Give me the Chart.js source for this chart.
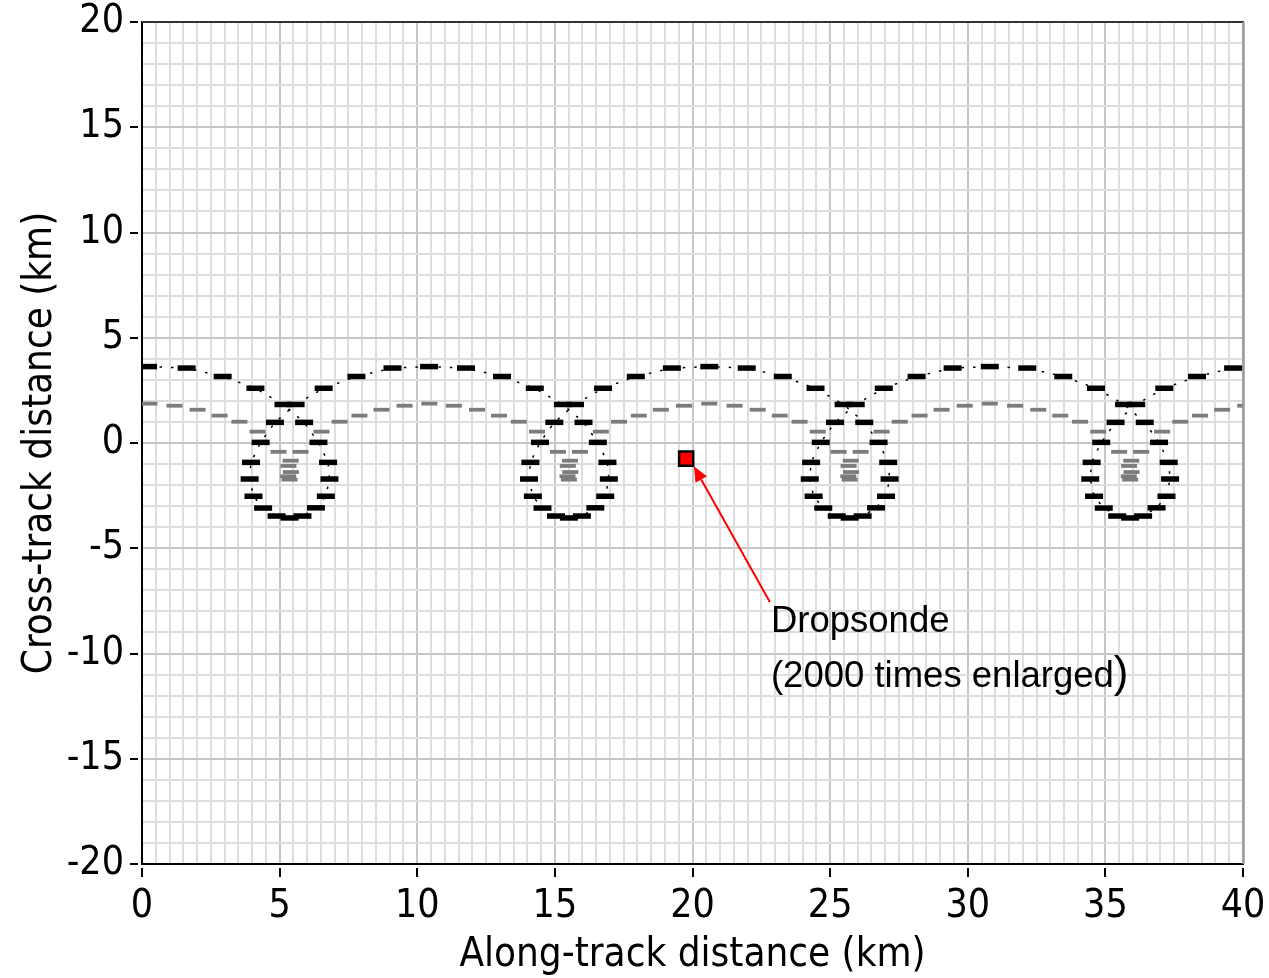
<!DOCTYPE html>
<html>
<head>
<meta charset="utf-8">
<title>Along-track vs cross-track distance</title>
<script src="https://cdn.jsdelivr.net/npm/chart.js@4.4.1/dist/chart.umd.min.js"></script>
<style>
  html, body { margin: 0; padding: 0; background: #ffffff; }
  #wrap { width: 1269px; height: 978px; }
</style>
</head>
<body>
<div id="wrap"><canvas id="plot" width="1269" height="978"></canvas></div>
<script>
// Sampled positions of the outer (black) track: [along-track km, cross-track km]
const blackTrack = [
  [0.22, 3.63], [1.62, 3.56], [2.93, 3.16], [4.12, 2.60], [5.14, 1.83],
  [5.89, 0.98], [6.41, 0.03], [6.76, -0.92], [6.81, -1.71], [6.68, -2.53], [6.32, -3.08], [5.83, -3.47],
  [5.36, -3.56],
  [4.89, -3.47], [4.40, -3.09], [4.05, -2.53], [3.91, -1.71], [3.96, -0.92], [4.31, 0.03], [4.83, 0.98],
  [5.58, 1.83], [6.60, 2.60], [7.79, 3.16], [9.10, 3.56], [10.43, 3.63],

  [11.77, 3.56], [13.08, 3.16], [14.27, 2.60], [15.29, 1.83],
  [16.04, 0.98], [16.56, 0.03], [16.91, -0.92], [16.96, -1.71], [16.83, -2.53], [16.47, -3.08], [15.98, -3.47],
  [15.51, -3.56],
  [15.04, -3.47], [14.55, -3.09], [14.20, -2.53], [14.06, -1.71], [14.11, -0.92], [14.46, 0.03], [14.98, 0.98],
  [15.73, 1.83], [16.75, 2.60], [17.94, 3.16], [19.25, 3.56], [20.61, 3.63],

  [21.97, 3.56], [23.28, 3.16], [24.47, 2.60], [25.49, 1.83],
  [26.24, 0.98], [26.76, 0.03], [27.11, -0.92], [27.16, -1.71], [27.03, -2.53], [26.67, -3.08], [26.18, -3.47],
  [25.71, -3.56],
  [25.24, -3.47], [24.75, -3.09], [24.40, -2.53], [24.26, -1.71], [24.31, -0.92], [24.66, 0.03], [25.18, 0.98],
  [25.93, 1.83], [26.95, 2.60], [28.14, 3.16], [29.45, 3.56], [30.80, 3.63],

  [32.16, 3.56], [33.47, 3.16], [34.66, 2.60], [35.68, 1.83],
  [36.43, 0.98], [36.95, 0.03], [37.30, -0.92], [37.35, -1.71], [37.22, -2.53], [36.86, -3.08], [36.37, -3.47],
  [35.90, -3.56],
  [35.43, -3.47], [34.94, -3.09], [34.59, -2.53], [34.45, -1.71], [34.50, -0.92], [34.85, 0.03], [35.37, 0.98],
  [36.12, 1.83], [37.14, 2.60], [38.33, 3.16], [39.64, 3.56], [40.99, 3.63]
];

// Sampled positions of the inner (grey) track: [along-track km, cross-track km]
const grayTrack = [
  [0.27, 1.87], [1.18, 1.77], [2.02, 1.58], [2.82, 1.30], [3.54, 1.01], [4.20, 0.54], [4.96, -0.42],
  [5.40, -0.84], [5.41, -1.38], [5.36, -1.74], [5.31, -1.58], [5.32, -1.09],
  [5.76, -0.42], [6.52, 0.54], [7.18, 1.01], [7.90, 1.30], [8.70, 1.58], [9.54, 1.77], [10.44, 1.87],

  [11.33, 1.77], [12.17, 1.58], [12.97, 1.30], [13.69, 1.01], [14.35, 0.54], [15.11, -0.42],
  [15.55, -0.84], [15.56, -1.38], [15.51, -1.74], [15.46, -1.58], [15.47, -1.09],
  [15.91, -0.42], [16.67, 0.54], [17.33, 1.01], [18.05, 1.30], [18.85, 1.58], [19.69, 1.77], [20.61, 1.87],

  [21.53, 1.77], [22.37, 1.58], [23.17, 1.30], [23.89, 1.01], [24.55, 0.54], [25.31, -0.42],
  [25.75, -0.84], [25.76, -1.38], [25.71, -1.74], [25.66, -1.58], [25.67, -1.09],
  [26.11, -0.42], [26.87, 0.54], [27.53, 1.01], [28.25, 1.30], [29.05, 1.58], [29.89, 1.77], [30.80, 1.87],

  [31.72, 1.77], [32.56, 1.58], [33.36, 1.30], [34.08, 1.01], [34.74, 0.54], [35.50, -0.42],
  [35.94, -0.84], [35.95, -1.38], [35.90, -1.74], [35.85, -1.58], [35.86, -1.09],
  [36.30, -0.42], [37.06, 0.54], [37.72, 1.01], [38.44, 1.30], [39.24, 1.58], [40.08, 1.77]
];

// Dropsonde location (km)
const sondeAlong = [19.77];
const sondeCross = [-0.74];

// Labelled axis ticks
const xTickLabels = [0, 5, 10, 15, 20, 25, 30, 35, 40];
const yTickLabels = [-20, -15, -10, -5, 0, 5, 10, 15, 20];

// Annotation text and its placement (in axis units)
const noteLines = ['Dropsonde', '(2000 times enlarged'];
const noteClose = ')';
const notePlace = { along: 22.85, cross1: -8.98, cross2: -11.59 };
const arrowTail = { along: 22.81, cross: -7.55 };
const arrowTip = { along: 20.05, cross: -1.11 };

const axisFamily = "'DejaVu Sans Condensed', 'DejaVu Sans', sans-serif";
const noteFamily = "'Liberation Sans', Arial, sans-serif";

const toPoints = arr => arr.map(p => ({ x: p[0], y: p[1] }));

const isMajor = (v, list) => list.some(t => Math.abs(t - v) < 1e-9);

const decorations = {
  id: 'decorations',
  afterDatasetsDraw(chart) {
    const { ctx, scales: { x, y } } = chart;
    ctx.save();
    // arrow pointing at the dropsonde
    const tx = x.getPixelForValue(arrowTail.along), ty = y.getPixelForValue(arrowTail.cross);
    const hx = x.getPixelForValue(arrowTip.along), hy = y.getPixelForValue(arrowTip.cross);
    const ang = Math.atan2(hy - ty, hx - tx);
    const headLen = 15, headHalf = 6.5;
    const bx = hx - Math.cos(ang) * headLen, by = hy - Math.sin(ang) * headLen;
    ctx.strokeStyle = '#ff0000';
    ctx.fillStyle = '#ff0000';
    ctx.lineWidth = 2;
    ctx.beginPath();
    ctx.moveTo(tx, ty);
    ctx.lineTo(bx, by);
    ctx.stroke();
    ctx.beginPath();
    ctx.moveTo(hx, hy);
    ctx.lineTo(bx - Math.sin(ang) * headHalf, by + Math.cos(ang) * headHalf);
    ctx.lineTo(bx + Math.sin(ang) * headHalf, by - Math.cos(ang) * headHalf);
    ctx.closePath();
    ctx.fill();

    // annotation text
    const nx = x.getPixelForValue(notePlace.along);
    const ny1 = y.getPixelForValue(notePlace.cross1);
    const ny2 = y.getPixelForValue(notePlace.cross2);
    ctx.fillStyle = '#000000';
    ctx.textAlign = 'left';
    ctx.textBaseline = 'alphabetic';
    ctx.font = '36.5px ' + noteFamily;
    ctx.fillText(noteLines[0], nx, ny1);
    ctx.fillText(noteLines[1], nx, ny2);
    const w = ctx.measureText(noteLines[1]).width;
    ctx.font = '44px ' + noteFamily;
    ctx.fillText(noteClose, nx + w, ny2);
    ctx.restore();
  },
  afterDraw(chart) {
    const { ctx, chartArea: a, scales: { x, y } } = chart;
    ctx.save();
    // frame: dark top edge, grey right edge
    ctx.lineWidth = 2;
    ctx.strokeStyle = '#333333';
    ctx.beginPath();
    ctx.moveTo(a.left, a.top);
    ctx.lineTo(a.right + 1, a.top);
    ctx.stroke();
    ctx.strokeStyle = '#9a9a9a';
    ctx.lineWidth = 2.5;
    ctx.beginPath();
    ctx.moveTo(a.right + 0.5, a.top);
    ctx.lineTo(a.right + 0.5, a.bottom);
    ctx.stroke();
    // outside tick marks at labelled values, set slightly off the axis line
    ctx.strokeStyle = '#000000';
    ctx.lineWidth = 2;
    xTickLabels.forEach(v => {
      const px = Math.round(x.getPixelForValue(v));
      ctx.beginPath();
      ctx.moveTo(px, a.bottom + 4);
      ctx.lineTo(px, a.bottom + 13);
      ctx.stroke();
    });
    yTickLabels.forEach(v => {
      const py = Math.round(y.getPixelForValue(v));
      ctx.beginPath();
      ctx.moveTo(a.left - 12, py);
      ctx.lineTo(a.left - 4, py);
      ctx.stroke();
    });
    ctx.restore();
  }
};

new Chart(document.getElementById('plot'), {
  type: 'scatter',
  data: {
    datasets: [
      {
        label: 'Dropsonde',
        order: 0,
        data: sondeAlong.map((v, i) => ({ x: v, y: sondeCross[i] })),
        pointStyle: 'rect',
        pointRadius: 10,
        pointBackgroundColor: '#ff0000',
        pointBorderColor: '#000000',
        pointBorderWidth: 2.5,
        showLine: false
      },
      {
        label: 'Outer track',
        order: 1,
        data: toPoints(blackTrack),
        showLine: true,
        borderColor: '#000000',
        borderWidth: 1.5,
        borderDash: [2.5, 9],
        tension: 0,
        pointStyle: 'line',
        pointRadius: 9,
        pointBorderWidth: 5.5,
        pointBorderColor: '#000000',
        pointBackgroundColor: '#000000'
      },
      {
        label: 'Inner track',
        order: 2,
        data: toPoints(grayTrack),
        showLine: false,
        pointStyle: 'line',
        pointRadius: 8,
        pointBorderWidth: 3.8,
        pointBorderColor: '#7c7c7c',
        pointBackgroundColor: '#7c7c7c'
      }
    ]
  },
  options: {
    responsive: false,
    animation: false,
    events: [],
    layout: { padding: { top: 22, right: 26, left: 0, bottom: 0 } },
    plugins: {
      legend: { display: false },
      tooltip: { enabled: false }
    },
    scales: {
      x: {
        type: 'linear',
        min: 0,
        max: 40,
        afterFit: s => { s.height = 114; s.paddingLeft = 0; s.paddingRight = 0; },
        ticks: {
          stepSize: 0.5,
          autoSkip: false,
          maxRotation: 0,
          minRotation: 0,
          padding: 23,
          color: '#000000',
          font: { family: axisFamily, size: 39, lineHeight: 1 },
          callback: v => (isMajor(v, xTickLabels) ? String(Math.round(v)) : '')
        },
        grid: {
          lineWidth: 2,
          drawTicks: false,
          tickLength: 0,
          color: c => (c.tick && Math.abs(c.tick.value % 5) < 1e-9 ? '#c6c6c6' : '#dedede')
        },
        border: { color: '#000000', width: 2 },
        title: {
          display: true,
          text: 'Along-track distance (km)',
          color: '#000000',
          font: { family: axisFamily, size: 40, lineHeight: 1.1 },
          padding: { top: 0, bottom: 0 }
        }
      },
      y: {
        type: 'linear',
        min: -20,
        max: 20,
        afterFit: s => { s.width = 142; s.paddingTop = 0; s.paddingBottom = 0; },
        ticks: {
          stepSize: 1,
          autoSkip: false,
          padding: 18,
          color: '#000000',
          font: { family: axisFamily, size: 39, lineHeight: 1 },
          callback: v => (isMajor(v, yTickLabels) ? String(Math.round(v)) : '')
        },
        grid: {
          lineWidth: 2,
          drawTicks: false,
          tickLength: 0,
          color: c => (c.tick && Math.abs(c.tick.value % 5) < 1e-9 ? '#c6c6c6' : '#dedede')
        },
        border: { color: '#000000', width: 2 },
        title: {
          display: true,
          text: 'Cross-track distance (km)',
          color: '#000000',
          font: { family: axisFamily, size: 40 },
          padding: { top: 17, bottom: 0 }
        }
      }
    }
  },
  plugins: [decorations]
});
</script>
</body>
</html>
